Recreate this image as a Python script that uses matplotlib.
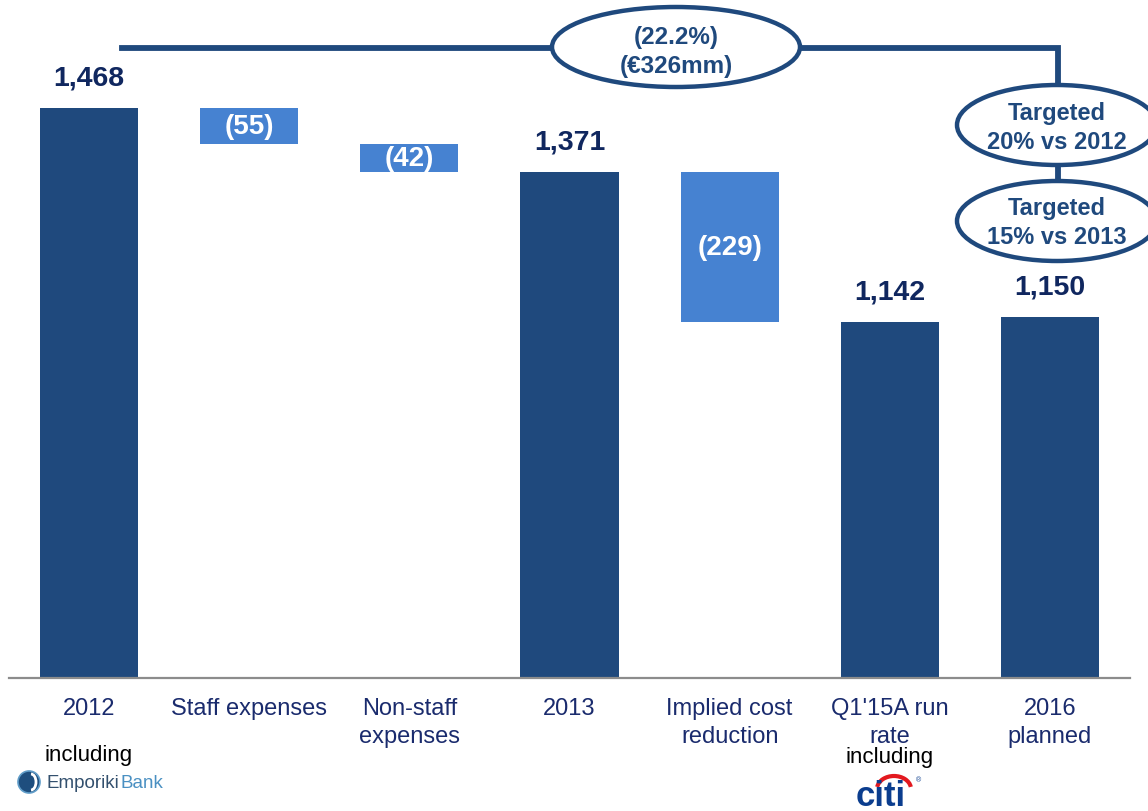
import matplotlib
matplotlib.use("Agg")
import matplotlib.pyplot as plt
from matplotlib.patches import Ellipse, Arc
from matplotlib.lines import Line2D

plt.rcParams['font.family'] = ['Liberation Sans', 'DejaVu Sans']

# data
categories = ["2012", "Staff expenses", "Non-staff\nexpenses", "2013",
              "Implied cost\nreduction", "Q1'15A run\nrate", "2016\nplanned"]
values = [1468, -55, -42, 1371, -229, 1142, 1150]
kinds = ["total", "delta", "delta", "total", "delta", "total", "total"]
bubble_top = "(22.2%)\n(€326mm)"
bubble_targets = ["Targeted\n20% vs 2012", "Targeted\n15% vs 2013"]

dark = "#1F497D"
light = "#4682D1"
label_navy = "#10275F"
tick_navy = "#1A2B6D"

W, H = 1148, 812
fig = plt.figure(figsize=(W / 100, H / 100), dpi=100)


def fx(px):
    return px / W


def fy(py):
    return 1 - py / H


ax = fig.add_axes([fx(9), fy(679), fx(1130) - fx(9), fy(0) - fy(679)])

xs = list(range(len(values)))
running = 0
for x, v, k in zip(xs, values, kinds):
    if k == "total":
        ax.bar(x, v, width=0.6125, color=dark, zorder=2)
        ax.annotate(f"{v:,}", (x, v), xytext=(0, 17), textcoords="offset points",
                    ha="center", va="baseline", fontsize=20.5, fontweight="bold",
                    color=label_navy)
        running = v
    else:
        bottom = running + v
        ax.bar(x, -v, bottom=bottom, width=0.6125, color=light, zorder=2)
        ax.text(x, bottom - v / 2, f"({-v})", ha="center", va="center",
                fontsize=20, fontweight="bold", color="white", zorder=3)
        running = bottom

ax.set_xlim(-0.5, 6.5)
ax.set_ylim(600, 1634)
ax.set_yticks([])
ax.set_xticks(xs)
ax.set_xticklabels(categories, fontsize=17, color=tick_navy)
for lbl in ax.get_xticklabels():
    lbl.set_linespacing(1.32)
ax.tick_params(axis="x", length=0, pad=14)
for s in ["top", "left", "right"]:
    ax.spines[s].set_visible(False)
ax.spines["bottom"].set_color("#8C8C8C")
ax.spines["bottom"].set_linewidth(1.6)
ax.spines["bottom"].set_zorder(3)

# connector line and bubbles
fig.add_artist(Line2D([fx(122), fx(1058), fx(1058)], [fy(49), fy(49), fy(222)],
                      color=dark, lw=4.2, solid_joinstyle="miter", zorder=4))
for cx, cy, w, h in [(676, 48, 248, 80), (1057, 126, 200, 80), (1057, 222, 200, 80)]:
    fig.add_artist(Ellipse((fx(cx), fy(cy)), w / W, h / H, transform=fig.transFigure,
                           facecolor="white", edgecolor=dark, lw=3.2, zorder=5))
fig.text(fx(676), fy(52), bubble_top, ha="center", va="center", fontsize=17.5,
         fontweight="bold", color=dark, linespacing=1.38, zorder=6)
fig.text(fx(1057), fy(128), bubble_targets[0], ha="center", va="center", fontsize=17,
         fontweight="bold", color=dark, linespacing=1.38, zorder=6)
fig.text(fx(1057), fy(223), bubble_targets[1], ha="center", va="center", fontsize=17,
         fontweight="bold", color=dark, linespacing=1.38, zorder=6)

# "including" notes with logos
fig.text(fx(89), fy(756), "including", ha="center", va="center", fontsize=16, color="black")
fig.text(fx(890), fy(758), "including", ha="center", va="center", fontsize=16, color="black")

fig.add_artist(Ellipse((fx(29), fy(783)), 22 / W, 22 / H, transform=fig.transFigure,
                       facecolor="#1E4E7E", edgecolor="#5F9CC8", lw=1.2))
fig.add_artist(Arc((fx(31), fy(783)), 10 / W, 16 / H, transform=fig.transFigure,
                   theta1=-90, theta2=90, color="white", lw=2))
fig.text(fx(47), fy(784), "Emporiki", ha="left", va="center", fontsize=13.5,
         color="#33506E")
fig.text(fx(120), fy(784), "Bank", ha="left", va="center", fontsize=13.5,
         color="#4A90C2")

fig.text(fx(881), fy(797), "citi", ha="center", va="center", fontsize=25,
         fontweight="bold", color="#0B3D8E")
fig.add_artist(Arc((fx(894), fy(790)), 34 / W, 26 / H, transform=fig.transFigure,
                   theta1=10, theta2=170, color="#E3191F", lw=3))
fig.text(fx(918), fy(781), "®", ha="center", va="center", fontsize=5, color="#0B3D8E")

fig.savefig("out.png", dpi=100)
